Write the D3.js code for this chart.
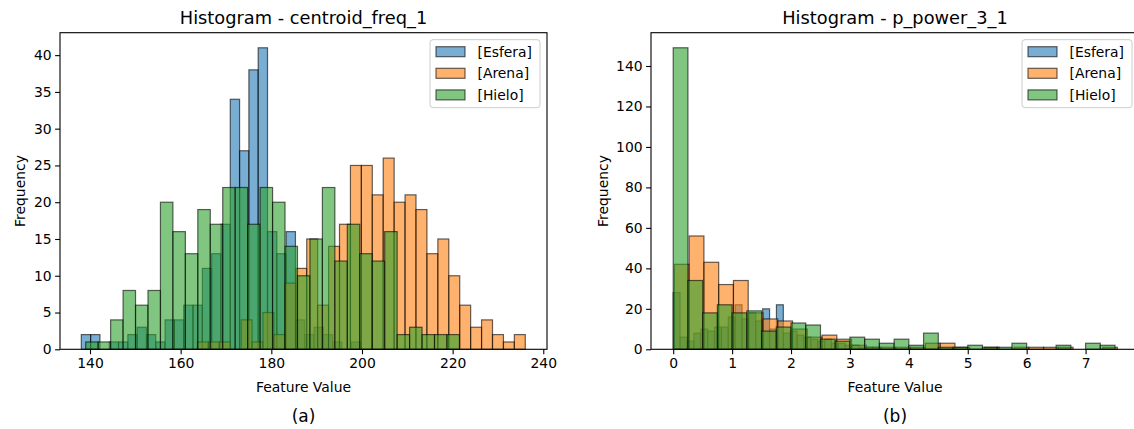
<!DOCTYPE html>
<html>
<head>
<meta charset="utf-8">
<script src="https://cdn.jsdelivr.net/npm/d3@7"></script>
<style>
  html, body { margin: 0; padding: 0; background: #fff; }
  svg { display: block; font-family: "DejaVu Sans", sans-serif; }
</style>
</head>
<body>
<svg id="chart" width="1134" height="429"></svg>
<script>
// ---------------- DATA ----------------
const seriesNames = ["[Esfera]", "[Arena]", "[Hielo]"];
const seriesColors = ["#1f77b4", "#ff7f0e", "#2ca02c"];

// Panel (a): centroid_freq_1 — 30 bins per series over each series' own range
const esferaRangeA = [138.08, 199.7];
const esferaCountsA = [2,2,0,1,1,2,3,2,1,4,4,6,6,11,13,17,34,27,38,41,16,13,16,4,2,3,2,1,0,1];
const arenaRangeA = [163.7, 236.03];
const arenaCountsA = [1,1,1,0,4,1,5,2,9,11,15,6,14,17,25,25,21,26,20,21,19,13,15,10,6,3,4,2,1,2];
const hieloRangeA = [139.05, 221.5];
const hieloCountsA = [1,1,4,8,6,8,20,16,13,19,17,22,22,17,22,20,14,10,15,22,12,17,13,12,16,2,3,2,2,2];
const xTicksA = [140, 160, 180, 200, 220, 240];
const yTicksA = [0, 5, 10, 15, 20, 25, 30, 35, 40];

// Panel (b): p_power_3_1
const esferaRangeB = [0.0, 3.505];
const esferaCountsB = [28,6,4,8,10,9,11,11,16,22,15,18,14,20,10,22,8,9,7,6,5,4,5,3,3,2,2,1,1,1];
const arenaRangeB = [0.02, 7.54];
const arenaCountsB = [42,56,43,32,34,18,15,14,10,6,7,5,2,1,1,1,1,3,3,1,0,1,0,1,1,1,1,0,0,1];
const hieloRangeB = [0.0, 7.5];
const hieloCountsB = [149,34,18,22,18,19,9,11,13,12,5,4,6,5,3,5,2,8,1,1,2,1,1,3,0,0,2,0,3,2];
const xTicksB = [0, 1, 2, 3, 4, 5, 6, 7];
const yTicksB = [0, 20, 40, 60, 80, 100, 120, 140];

const titles = ["Histogram - centroid_freq_1", "Histogram - p_power_3_1"];
const captions = ["(a)", "(b)"];
const xLabel = "Feature Value";
const yLabel = "Frequency";

// ---------------- DRAWING ----------------
const svg = d3.select("#chart");
const FONT = 13.9;

function binsFrom(range, counts) {
  const n = counts.length;
  const w = (range[1] - range[0]) / n;
  return counts.map((c, i) => ({ x0: range[0] + i * w, x1: range[0] + (i + 1) * w, c }));
}

function drawPanel(p) {
  const g = svg.append("g");
  const x = d3.scaleLinear().domain(p.xDomain).range([p.left, p.right]);
  const y = d3.scaleLinear().domain(p.yDomain).range([p.bottom, p.top]);

  // bars
  p.series.forEach((s, si) => {
    g.append("g").selectAll("rect")
      .data(binsFrom(s.range, s.counts))
      .join("rect")
      .attr("x", d => x(d.x0))
      .attr("width", d => x(d.x1) - x(d.x0))
      .attr("y", d => y(d.c))
      .attr("height", d => y(0) - y(d.c))
      .attr("fill", seriesColors[si])
      .attr("fill-opacity", 0.6)
      .attr("stroke", "#000")
      .attr("stroke-opacity", 0.6)
      .attr("stroke-width", 1.2);
  });

  // axes
  const xAxis = d3.axisBottom(x).tickValues(p.xTicks).tickSize(4.9).tickPadding(3.5).tickSizeOuter(0);
  const yAxis = d3.axisLeft(y).tickValues(p.yTicks).tickSize(4.9).tickPadding(3.5).tickSizeOuter(0);
  const gx = g.append("g").attr("transform", `translate(0,${p.bottom})`).call(xAxis);
  const gy = g.append("g").attr("transform", `translate(${p.left},0)`).call(yAxis);
  [gx, gy].forEach(a => {
    a.select(".domain").remove();
    a.selectAll("line").attr("stroke", "#000").attr("stroke-width", 1.1);
    a.selectAll("text").attr("fill", "#000").style("font-size", FONT + "px")
      .style("font-family", "DejaVu Sans");
  });
  let maxW = 0;
  gy.selectAll("text").each(function () { maxW = Math.max(maxW, this.getComputedTextLength()); });

  // spines
  g.append("rect")
    .attr("x", p.left).attr("y", p.top)
    .attr("width", p.right - p.left).attr("height", p.bottom - p.top)
    .attr("fill", "none").attr("stroke", "#000").attr("stroke-width", 1.1);

  const cx = (p.left + p.right) / 2;
  g.append("text").attr("x", cx).attr("y", 24).attr("text-anchor", "middle")
    .style("font-size", "17.8px").text(p.title);
  g.append("text").attr("x", cx).attr("y", 392).attr("text-anchor", "middle")
    .style("font-size", FONT + "px").text(xLabel);
  g.append("text")
    .attr("transform", `translate(${p.left - 8.4 - maxW - 13.5},${(p.top + p.bottom) / 2}) rotate(-90)`)
    .attr("text-anchor", "middle").attr("dy", "0.36em").style("font-size", FONT + "px").text(yLabel);
  g.append("text").attr("x", cx).attr("y", 422).attr("text-anchor", "middle")
    .style("font-size", "17px").text(p.caption);

  // legend
  const lw = 110, lh = 68;
  const lx = p.right - 7 - lw, ly = p.top + 7;
  const lg = g.append("g").attr("transform", `translate(${lx},${ly})`);
  lg.append("rect").attr("width", lw).attr("height", lh).attr("rx", 3)
    .attr("fill", "#fff").attr("fill-opacity", 0.8).attr("stroke", "#ccc").attr("stroke-width", 1);
  seriesNames.forEach((nm, i) => {
    const cy = 12 + i * 21.6;
    lg.append("rect").attr("x", 6).attr("y", cy - 5).attr("width", 29).attr("height", 10)
      .attr("fill", seriesColors[i]).attr("fill-opacity", 0.6)
      .attr("stroke", "#000").attr("stroke-opacity", 0.6).attr("stroke-width", 1.2);
    lg.append("text").attr("x", 47.5).attr("y", cy).attr("dy", "0.36em")
      .style("font-size", FONT + "px").text(nm);
  });
}

drawPanel({
  left: 60, right: 547, top: 32.7, bottom: 349.3,
  xDomain: [133.38, 240.82], yDomain: [0, 43.05],
  xTicks: xTicksA, yTicks: yTicksA,
  series: [
    { range: esferaRangeA, counts: esferaCountsA },
    { range: arenaRangeA, counts: arenaCountsA },
    { range: hieloRangeA, counts: hieloCountsA }
  ],
  title: titles[0], caption: captions[0]
});

drawPanel({
  left: 651, right: 1139, top: 32.7, bottom: 349.3,
  xDomain: [-0.377, 7.907], yDomain: [0, 156.45],
  xTicks: xTicksB, yTicks: yTicksB,
  series: [
    { range: esferaRangeB, counts: esferaCountsB },
    { range: arenaRangeB, counts: arenaCountsB },
    { range: hieloRangeB, counts: hieloCountsB }
  ],
  title: titles[1], caption: captions[1]
});
</script>
</body>
</html>
